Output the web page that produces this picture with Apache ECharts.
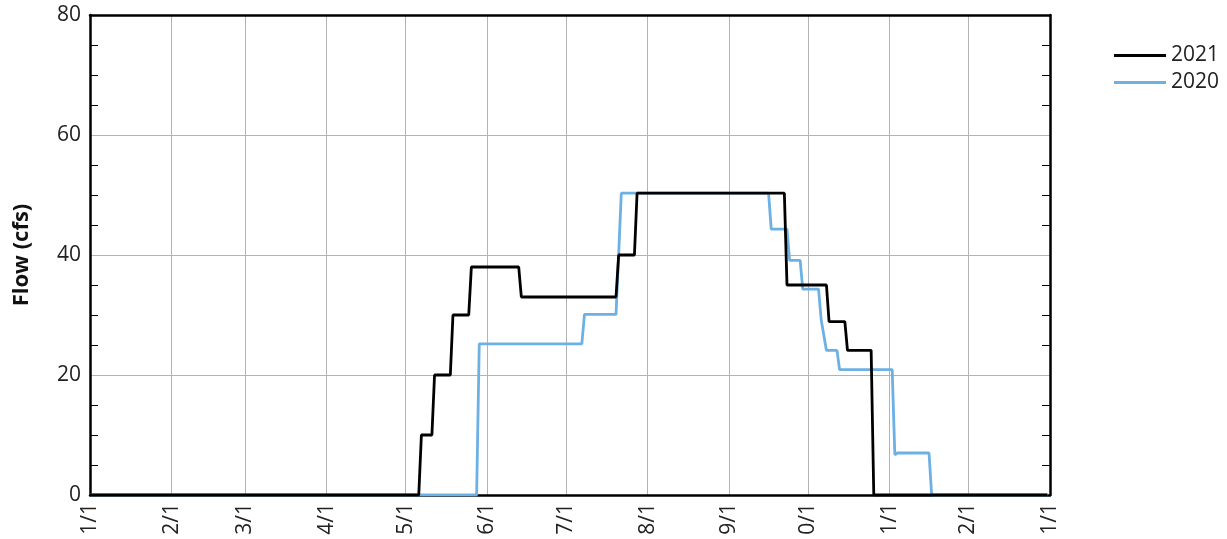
<!DOCTYPE html>
<html>
<head>
<meta charset="utf-8">
<script src="https://cdn.jsdelivr.net/npm/echarts@6/dist/echarts.min.js"></script>
<style>
  html, body { margin: 0; padding: 0; background: #fff; }
  #chart { width: 1227px; height: 539px; }
</style>
</head>
<body>
<div id="chart"></div>
<script>
// ---- data (month-day, flow in cfs), plotted on a common Jan 1 -> Jan 1 calendar ----
const seriesNames = ['2021', '2020'];

const flow2021 = [
  ['01-01', 0], ['05-06', 0], ['05-07', 10], ['05-11', 10], ['05-12', 20],
  ['05-18', 20], ['05-19', 30], ['05-25', 30], ['05-26', 38], ['06-13', 38],
  ['06-14', 33], ['07-20', 33], ['07-21', 40], ['07-27', 40], ['07-28', 50.3],
  ['09-22', 50.3], ['09-23', 35], ['10-08', 35], ['10-09', 28.9], ['10-15', 28.9],
  ['10-16', 24.1], ['10-25', 24.1], ['10-26', 0], ['12-31', 0]
];

const flow2020 = [
  ['01-01', 0], ['05-28', 0], ['05-29', 25.2], ['07-07', 25.2], ['07-08', 30.1],
  ['07-20', 30.1], ['07-21', 40], ['07-22', 50.3], ['09-16', 50.3], ['09-17', 44.3],
  ['09-23', 44.3], ['09-24', 39.1], ['09-28', 39.1], ['09-29', 34.3], ['10-05', 34.3],
  ['10-06', 29.2], ['10-08', 24.1], ['10-12', 24.1], ['10-13', 20.9], ['11-02', 20.9],
  ['11-03', 6.7], ['11-04', 7.0], ['11-16', 7.0], ['11-17', 0], ['12-31', 0]
];

const yTicks = [0, 20, 40, 60, 80];

// ---- build the daily calendar axis (2021-01-01 .. 2022-01-01) ----
const categories = [];
for (let t = Date.UTC(2021, 0, 1); t <= Date.UTC(2022, 0, 1); t += 86400000) {
  categories.push(new Date(t).toISOString().slice(0, 10));
}
const toCat = md => '2021-' + md;
const isMonthStart = (i, v) => v.slice(8) === '01';
const fmtLabel = v => (+v.slice(5, 7)) + '/' + (+v.slice(8, 10));

const FONT = '"Open Sans", "Noto Sans", sans-serif';
const FS = 21;

const chart = echarts.init(document.getElementById('chart'), null, { renderer: 'canvas' });
chart.setOption({
  animation: false,
  backgroundColor: '#fff',
  textStyle: { fontFamily: FONT },
  grid: { left: 90, right: 177, top: 15, bottom: 44, containLabel: false, outerBoundsMode: 'none' },
  legend: {
    data: seriesNames,
    orient: 'vertical',
    left: 1114,
    top: 45,
    padding: 0,
    icon: 'rect',
    itemWidth: 52,
    itemHeight: 3,
    itemGap: 6,
    textStyle: { fontSize: FS, color: '#222', fontFamily: FONT }
  },
  xAxis: [{
    type: 'category',
    data: categories,
    boundaryGap: false,
    axisLine: { show: true, lineStyle: { color: '#000', width: 2.5 } },
    axisTick: { show: false },
    axisLabel: {
      interval: isMonthStart,
      rotate: 90,
      margin: 8,
      fontSize: FS,
      color: '#222',
      fontFamily: FONT,
      formatter: fmtLabel
    },
    splitLine: { show: true, interval: isMonthStart, lineStyle: { color: '#b3b3b3', width: 1 } }
  }, {
    type: 'category',
    data: categories,
    position: 'top',
    boundaryGap: false,
    axisLine: { show: true, onZero: false, lineStyle: { color: '#000', width: 2.5 } },
    axisTick: { show: false },
    axisLabel: { show: false },
    splitLine: { show: false }
  }],
  yAxis: [{
    type: 'value',
    min: yTicks[0],
    max: yTicks[yTicks.length - 1],
    interval: 20,
    name: 'Flow (cfs)',
    nameLocation: 'middle',
    nameGap: 57,
    nameTextStyle: { fontSize: 22, fontWeight: 'bold', color: '#111', fontFamily: FONT },
    axisLine: { show: true, onZero: false, lineStyle: { color: '#000', width: 2.5 } },
    axisTick: { show: false, inside: true, length: 8 },
    minorTick: { show: true, splitNumber: 4, length: 8, lineStyle: { color: '#000', width: 1 } },
    axisLabel: { margin: 9, fontSize: FS, color: '#222', fontFamily: FONT },
    splitLine: { show: true, lineStyle: { color: '#b3b3b3', width: 1 } }
  }, {
    type: 'value',
    position: 'right',
    min: yTicks[0],
    max: yTicks[yTicks.length - 1],
    interval: 20,
    axisLine: { show: true, onZero: false, lineStyle: { color: '#000', width: 2.5 } },
    axisTick: { show: false, inside: true, length: 8 },
    minorTick: { show: true, splitNumber: 4, length: 8, lineStyle: { color: '#000', width: 1 } },
    axisLabel: { show: false },
    splitLine: { show: false }
  }],
  series: [{
    name: '2020',
    type: 'line',
    symbol: 'none',
    lineStyle: { color: '#6DB0E4', width: 2.8 },
    itemStyle: { color: '#6DB0E4' },
    data: flow2020.map(d => [toCat(d[0]), d[1]]),
    z: 2
  }, {
    name: '2021',
    type: 'line',
    symbol: 'none',
    lineStyle: { color: '#000', width: 2.8 },
    itemStyle: { color: '#000' },
    data: flow2021.map(d => [toCat(d[0]), d[1]]),
    z: 3
  }]
});
</script>
</body>
</html>
